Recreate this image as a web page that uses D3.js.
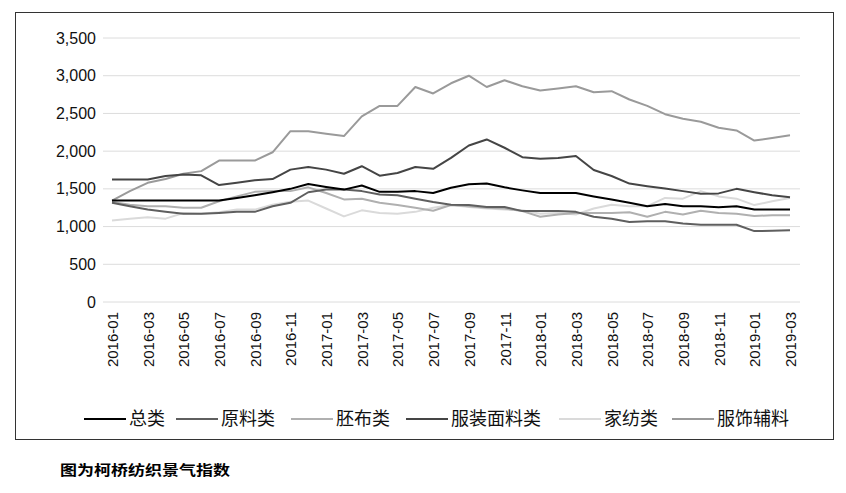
<!DOCTYPE html>
<html><head><meta charset="utf-8">
<script src="https://cdn.jsdelivr.net/npm/d3@7"></script>
<style>body{margin:0;background:#fff;font-family:"Liberation Sans",Arial,sans-serif}</style>
</head><body><svg width="846" height="493"></svg>
<script>
const months = [];
for (let y = 2016; y <= 2019; y++) for (let m = 1; m <= 12; m++) {
  if (y === 2019 && m > 3) break;
  months.push(y + '-' + String(m).padStart(2, '0'));
}
const seriesNames = ['总类', '原料类', '胚布类', '服装面料类', '家纺类', '服饰辅料'];
const seriesColors = ['#000000', '#5f5f5f', '#b0b0b0', '#454545', '#dadada', '#9a9a9a'];
const zonglei = [1345,1345,1345,1345,1345,1345,1345,1380,1415,1455,1500,1565,1525,1490,1545,1460,1460,1470,1445,1515,1560,1570,1520,1480,1445,1445,1445,1400,1360,1315,1270,1300,1270,1270,1255,1270,1225,1225,1225];
const yuanliao = [1315,1270,1225,1195,1170,1170,1180,1195,1195,1270,1315,1455,1490,1490,1470,1425,1415,1370,1325,1290,1285,1260,1260,1205,1205,1205,1195,1130,1105,1060,1070,1070,1040,1025,1025,1025,940,945,950];
const peibu = [1325,1290,1270,1270,1250,1250,1335,1400,1460,1470,1470,1520,1445,1360,1370,1315,1285,1250,1210,1285,1270,1250,1240,1205,1130,1160,1180,1180,1180,1190,1130,1195,1160,1210,1180,1170,1140,1150,1150];
const fuzhuang = [1625,1625,1625,1670,1690,1680,1550,1580,1615,1630,1755,1790,1755,1700,1800,1675,1710,1790,1765,1910,2075,2155,2045,1920,1900,1910,1935,1750,1670,1570,1535,1505,1470,1435,1440,1500,1455,1415,1390];
const jiafang = [1080,1105,1125,1105,1180,1170,1190,1225,1225,1290,1330,1345,1240,1135,1215,1180,1170,1195,1250,1285,1260,1240,1225,1215,1170,1180,1160,1240,1290,1270,1270,1380,1370,1470,1400,1370,1285,1335,1380];
const fushi = [1345,1470,1580,1630,1700,1735,1875,1875,1875,1985,2265,2265,2230,2200,2460,2600,2600,2850,2765,2900,3000,2850,2940,2860,2805,2830,2860,2780,2795,2685,2600,2490,2430,2390,2310,2275,2140,2175,2210];
const seriesValues = [zonglei, yuanliao, peibu, fuzhuang, jiafang, fushi];
const yTicks = [0, 500, 1000, 1500, 2000, 2500, 3000, 3500];

const svg = d3.select('svg');
svg.append('rect').attr('x', 15.5).attr('y', 12.5).attr('width', 818).attr('height', 427)
  .attr('fill', 'none').attr('stroke', '#333').attr('stroke-width', 1);

const x = d3.scalePoint().domain(months).range([112, 790]);
const y = d3.scaleLinear().domain([0, 3500]).range([302, 38]);

svg.append('g').selectAll('line').data(yTicks).enter().append('line')
  .attr('x1', 103).attr('x2', 800)
  .attr('y1', d => y(d)).attr('y2', d => y(d))
  .attr('stroke', '#dcdcdc').attr('stroke-width', 1);

svg.append('g').selectAll('text').data(yTicks).enter().append('text')
  .attr('x', 96).attr('y', d => y(d)).attr('dy', '0.35em')
  .attr('text-anchor', 'end').attr('font-size', 16).attr('fill', '#111')
  .text(d3.format(','));

svg.append('g').selectAll('text').data(months.filter((d, i) => i % 2 === 0)).enter().append('text')
  .attr('transform', d => `translate(${x(d) + 6},312) rotate(-90)`)
  .attr('text-anchor', 'end').attr('font-size', 15).attr('fill', '#111')
  .text(d => d);

const line = d3.line().x((d, i) => x(months[i])).y(d => y(d));
const order = [4, 2, 1, 5, 3, 0];
order.forEach(k => {
  svg.append('path').datum(seriesValues[k])
    .attr('d', line).attr('fill', 'none')
    .attr('stroke', seriesColors[k]).attr('stroke-width', 2)
    .attr('stroke-linejoin', 'round');
});

const legendX = [84, 176, 291, 406, 559, 672];
const legend = svg.append('g').selectAll('g').data(seriesNames).enter().append('g')
  .attr('transform', (d, i) => `translate(${legendX[i]},419)`);
legend.append('line').attr('x1', 0).attr('x2', 42)
  .attr('stroke', (d, i) => seriesColors[i]).attr('stroke-width', 2.2);
legend.append('text').attr('x', 45).attr('dy', '0.35em').attr('font-size', 18)
  .attr('font-family', '"Noto Sans CJK SC"').attr('fill', '#111').text(d => d);

svg.append('text').attr('x', 60).attr('y', 475).attr('font-size', 14)
  .attr('font-family', '"Noto Sans CJK SC"').attr('font-weight', 'bold')
  .attr('textLength', 170).attr('lengthAdjust', 'spacingAndGlyphs')
  .text('图为柯桥纺织景气指数');
</script></body></html>
